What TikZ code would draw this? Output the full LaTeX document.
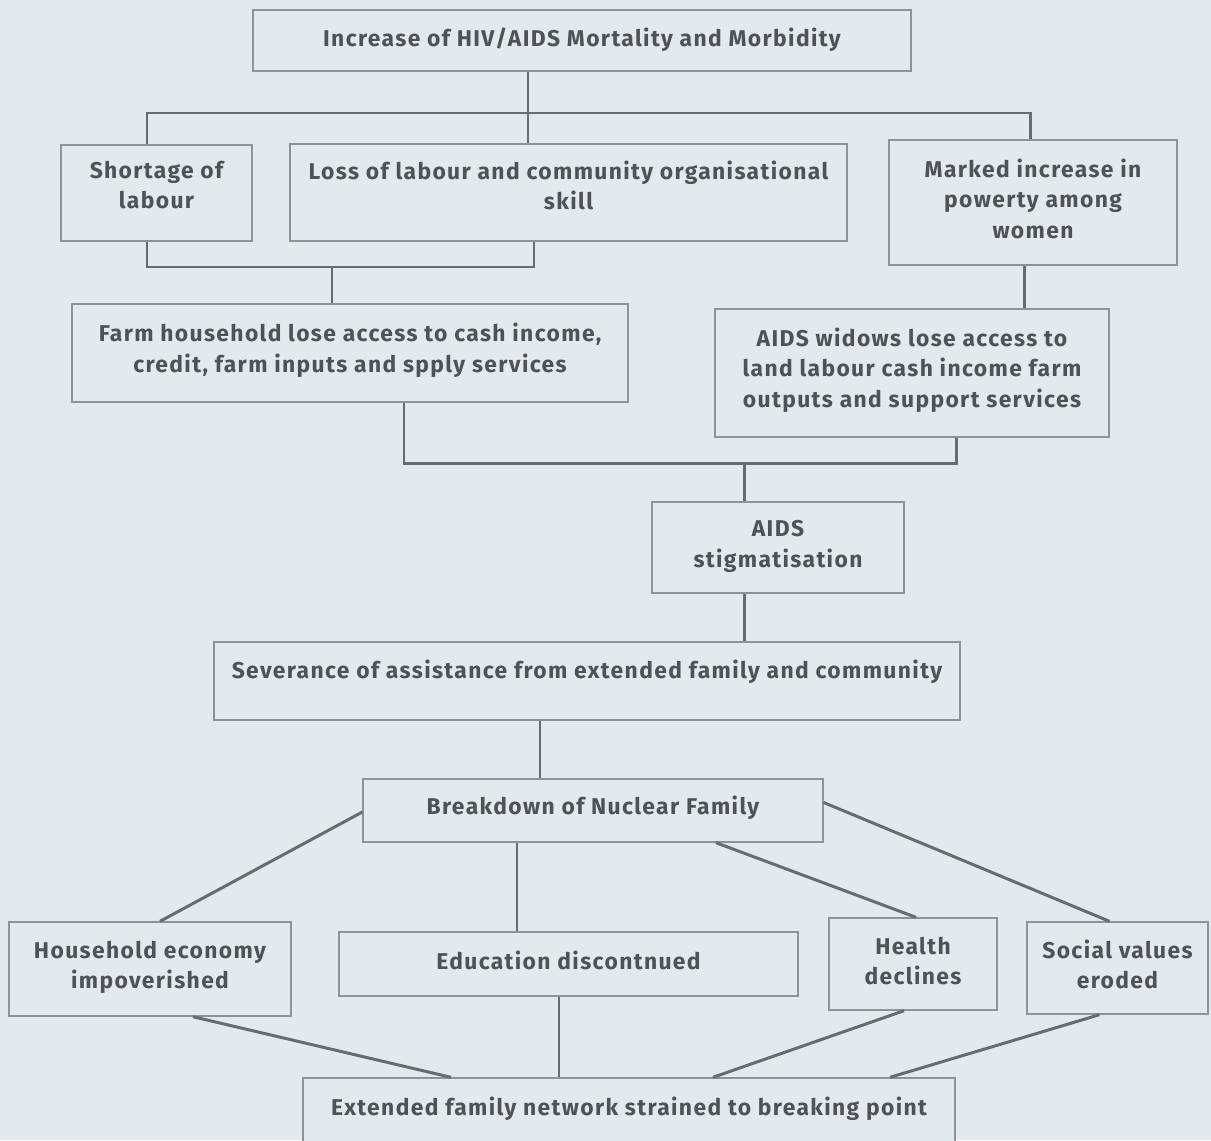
\documentclass[tikz,border=0pt]{standalone}
\usepackage{fontspec}
\setmainfont{Fira Sans}[LetterSpace=6]
\usepackage{tikz}
\usetikzlibrary{positioning,calc}

\definecolor{paper}{HTML}{E3EAEE}
\definecolor{boxline}{HTML}{8E9396}
\definecolor{linkline}{HTML}{686C6F}
\definecolor{ink}{HTML}{4F5356}

\begin{document}
\begin{tikzpicture}
[x=0.02cm, y=-0.02cm,
 box/.style={draw=boxline, line width=0.8pt, fill=paper, text=ink, align=center,
   inner sep=0pt, font=\fontsize{13pt}{17.3pt}\selectfont\bfseries},
 link/.style={draw=linkline, line width=1.7pt}]
\fill[paper] (0,0) rectangle (1211,1140);
\useasboundingbox (0,0) rectangle (1211,1140);
% boxes
\node[box,minimum width=13.16cm,minimum height=1.22cm,text depth=4pt] (top) at (582,40.5)
  {Increase of HIV/AIDS Mortality and Morbidity};
\node[box,minimum width=3.82cm,minimum height=1.92cm,text depth=9pt] (short) at (156.5,193)
  {Shortage of\\labour};
\node[box,minimum width=11.14cm,minimum height=1.94cm,text depth=8.5pt] (loss) at (568.5,192.5)
  {Loss of labour and community organisational\\skill};
\node[box,minimum width=5.76cm,minimum height=2.5cm,text depth=4.5pt] (marked) at (1033,202.5)
  {Marked increase in\\powerty among\\women};
\node[box,minimum width=11.12cm,minimum height=1.96cm,text depth=6pt] (farm) at (350,353)
  {Farm household lose access to cash income,\\credit, farm inputs and spply services};
\node[box,minimum width=7.88cm,minimum height=2.56cm,text depth=6pt] (widows) at (912,373)
  {AIDS widows lose access to\\land labour cash income farm\\outputs and support services};
\node[box,minimum width=5.04cm,minimum height=1.82cm,text depth=4pt] (stigma) at (778,547.5)
  {AIDS\\stigmatisation};
\node[box,minimum width=14.92cm,minimum height=1.56cm,text depth=13.5pt] (sever) at (587,681)
  {Severance of assistance from extended family and community};
\node[box,minimum width=9.2cm,minimum height=1.26cm,text depth=6pt] (breakdown) at (593,810.5)
  {Breakdown of Nuclear Family};
\node[box,minimum width=5.64cm,minimum height=1.88cm,text depth=4.5pt] (household) at (150,969)
  {Household economy\\impoverished};
\node[box,minimum width=9.18cm,minimum height=1.28cm,text depth=4.5pt] (edu) at (568.5,964)
  {Education discontnued};
\node[box,minimum width=3.36cm,minimum height=1.84cm,text depth=3.5pt] (health) at (913,964)
  {Health\\declines};
\node[box,minimum width=3.62cm,minimum height=1.84cm,text depth=4.5pt] (social) at (1117.5,968)
  {Social values\\eroded};
\node[box,minimum width=13.04cm,minimum height=1.4cm,text depth=8pt] (extended) at (629,1113)
  {Extended family network strained to breaking point};
% junctions
\coordinate (busA) at (528,113);
\coordinate (busB) at (332,267);
\coordinate (busC) at (744,463);
% links
\draw[link] (top.south -| busA) -- (loss.north -| busA);
\draw[link] ($(short.north)+(-9.5,0)$) |- (busA) -| ($(marked.north)+(-3,0)$);
\draw[link] ($(short.south)+(-9.5,0)$) |- (busB) -| ($(loss.south)+(-34.5,0)$);
\draw[link] (busB) -- (farm.north -| busB);
\draw[link] ($(marked.south)+(-9,0)$) coordinate (m) -- (m |- widows.north);
\draw[link] ($(farm.south)+(54,0)$) |- (busC) -| ($(widows.south)+(44,0)$);
\draw[link] (busC) -- (stigma.north -| busC);
\draw[link] (stigma.south -| busC) -- (sever.north -| busC);
\draw[link] ($(sever.south)+(-47,0)$) coordinate (s) -- (s |- breakdown.north);
\draw[link] ($(breakdown.west)+(0,1.5)$) -- ($(household.north)+(10,0)$);
\draw[link] ($(breakdown.south)+(-76,0)$) coordinate (b) -- (b |- edu.north);
\draw[link] ($(breakdown.south)+(123,0)$) -- ($(health.north)+(3,0)$);
\draw[link] ($(breakdown.east)+(0,-8)$) -- ($(social.north)+(-8,0)$);
\draw[link] ($(household.south)+(43,0)$) -- ($(extended.north)+(-178,0)$);
\draw[link] ($(edu.south)+(-9.5,0)$) coordinate (e) -- (e |- extended.north);
\draw[link] ($(health.south)+(-9,0)$) -- ($(extended.north)+(84,0)$);
\draw[link] ($(social.south)+(-18,0)$) -- ($(extended.north)+(261,0)$);
\end{tikzpicture}
\end{document}
